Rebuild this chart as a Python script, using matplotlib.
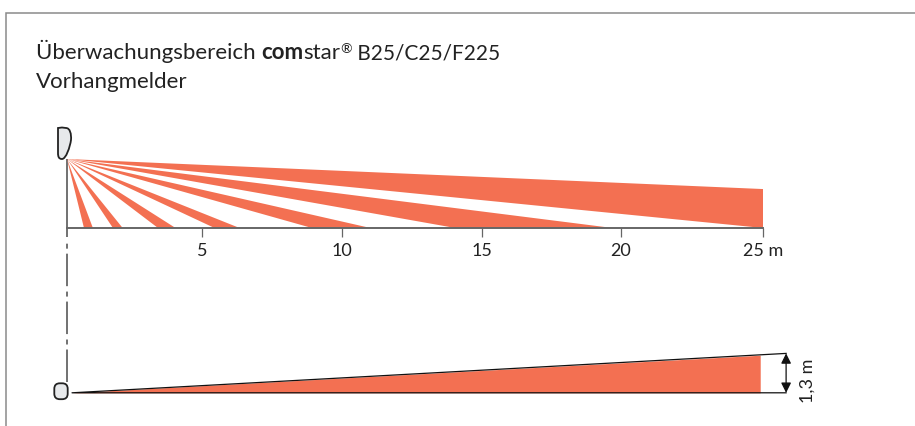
import matplotlib
matplotlib.use('Agg')
import matplotlib.pyplot as plt
from matplotlib.patches import PathPatch, FancyBboxPatch, Polygon
from matplotlib.path import Path

plt.rcParams['lines.scale_dashes'] = False

W, H = 915, 426
ORANGE = '#F37052'
DARK = '#222222'
GREY = '#666666'
FONT = 'Lato'

# ground plan: where each beam meets the ground, metres
beam_ground = [(0.61, 0.93), (1.65, 2.0), (3.27, 3.9), (5.3, 6.2), (8.8, 10.9), (13.95, 19.6)]
# last beam ends at 25 m, height in metres there
beam_far = (0.0, 1.4)
apex_height = 2.48
tick_pos = [4.85, 9.87, 14.9, 19.9, 25]
tick_labels = ['5', '10', '15', '20', '25 m']

# side view
side_apex = 0.18
side_end = 25.83
side_height = 1.3
side_fill_end = 24.9
side_fill_top = 1.24


def px_axes(fig, left, right, top, bottom):
    return fig.add_axes([left / W, 1 - bottom / H, (right - left) / W, (bottom - top) / H])


fig = plt.figure(figsize=(W / 100, H / 100), dpi=100)

# background layer in pixels: frame, title, sensor icons
bg = fig.add_axes([0, 0, 1, 1])
bg.set_xlim(0, W)
bg.set_ylim(H, 0)
bg.axis('off')
bg.plot([6.3, 6.3, W], [H, 12.7, 12.7], color='#8a8a8a', lw=1.1, solid_joinstyle='miter')

renderer = fig.canvas.get_renderer()
x = 36
segments = [('Überwachungsbereich ', 'normal', 16, 59), ('com', 'bold', 16, 59),
            ('star', 'normal', 16, 59), ('®', 'normal', 10, 53), (' B25/C25/F225', 'normal', 15, 59)]
for txt, weight, size, base in segments:
    t = bg.text(x, base, txt.replace(' ', '\u00a0'), fontsize=size, fontweight=weight, family=FONT, color=DARK, va='baseline')
    x = t.get_window_extent(renderer).x1
bg.text(36, 88, 'Vorhangmelder', fontsize=16, family=FONT, color=DARK, va='baseline')

# dash-dot centre line
bg.plot([67, 67], [159, 237], color=GREY, lw=1.3, solid_capstyle='butt')
bg.plot([67, 67], [382, 243], color=GREY, lw=1.3, dashes=[23.4, 3.6, 3.6, 3.9], dash_capstyle='butt', scaley=False)

icon = Path([(58, 128), (62, 127.5), (66, 128), (70, 128), (71.5, 134), (71, 140), (70, 147), (66, 159),
             (62, 159), (59, 159), (58, 157), (58, 153), (58, 128), (58, 128)],
            [Path.MOVETO, Path.LINETO, Path.LINETO, Path.CURVE4, Path.CURVE4, Path.CURVE4, Path.CURVE4, Path.CURVE4,
             Path.CURVE4, Path.CURVE4, Path.CURVE4, Path.CURVE4, Path.LINETO, Path.CLOSEPOLY])
bg.add_patch(PathPatch(icon, facecolor='#e7e9eb', edgecolor=DARK, lw=1.3))
bg.add_patch(FancyBboxPatch((59.5, 388.5), 3, 5.5, boxstyle='round,pad=5.2,rounding_size=5.5',
                            facecolor='#e7e9eb', edgecolor=DARK, lw=1.3))

# ground plan
ax = px_axes(fig, 67, 763, 159, 228)
ax.patch.set_visible(False)
ax.set_xlim(0, 25)
ax.set_ylim(0, apex_height)
for a, b in beam_ground:
    ax.add_patch(Polygon([(0, apex_height), (a, 0), (b, 0)], facecolor=ORANGE, edgecolor='none'))
ax.add_patch(Polygon([(0, apex_height), (25, beam_far[0]), (25, beam_far[1])], facecolor=ORANGE, edgecolor='none'))
for s in ['top', 'left', 'right']:
    ax.spines[s].set_visible(False)
ax.spines['bottom'].set_color(GREY)
ax.spines['bottom'].set_linewidth(1.4)
ax.set_yticks([])
ax.set_xticks(tick_pos)
ax.set_xticklabels(tick_labels, fontsize=13, family=FONT, color=DARK)
ax.tick_params(axis='x', length=6.5, width=0.9, color=GREY, pad=4)

# side view
ax2 = px_axes(fig, 67, 763, 353.4, 392.8)
ax2.patch.set_visible(False)
ax2.set_xlim(0, 25)
ax2.set_ylim(0, side_height)
ax2.axis('off')
ax2.fill_between([side_apex, side_fill_end], [0, 0], [0, side_fill_top], color=ORANGE, lw=0)
ax2.plot([side_end, side_apex, side_end], [side_height, 0, 0], color='#111111', lw=0.9, clip_on=False)
ax2.annotate('', xy=(side_end, side_height), xytext=(side_end, 0), annotation_clip=False,
             arrowprops=dict(arrowstyle='<|-|>,head_length=0.6,head_width=0.3', color='#111111',
                             lw=0.9, shrinkA=0, shrinkB=0))
ax2.text(26.6, side_height / 2 - 0.27, '1,3 m', rotation=90, fontsize=13, family=FONT, color=DARK,
         ha='center', va='center', clip_on=False)

fig.savefig('out.png', dpi=100)
